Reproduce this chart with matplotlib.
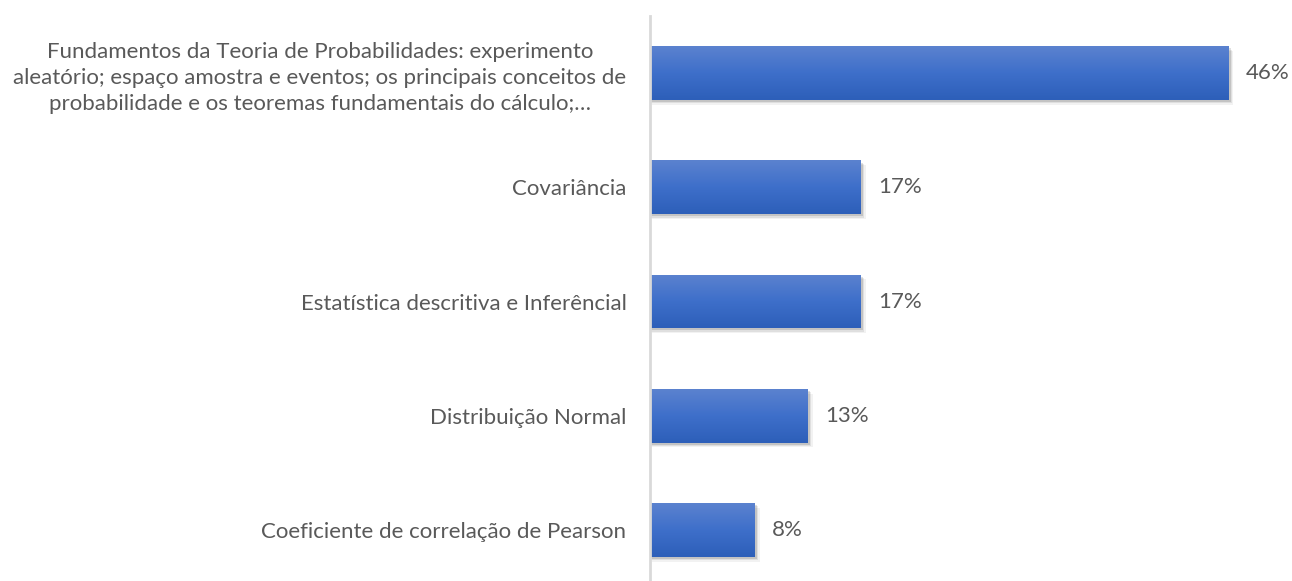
"""Horizontal bar chart with gradient bars (Excel style)."""
import matplotlib
matplotlib.use("Agg")
import matplotlib.pyplot as plt
import numpy as np
from matplotlib.colors import LinearSegmentedColormap
from matplotlib.patches import Rectangle

categories = [
    "Fundamentos da Teoria de Probabilidades: experimento\n"
    "aleatório; espaço amostra e eventos; os principais conceitos de\n"
    "probabilidade e os teoremas fundamentais do cálculo;…",
    "Covariância",
    "Estatística descritiva e Inferêncial",
    "Distribuição Normal",
    "Coeficiente de correlação de Pearson",
]
values = [45.8, 16.7, 16.7, 12.5, 8.3]
value_labels = ["46%", "17%", "17%", "13%", "8%"]

TEXT = "#595959"
W, H = 1292, 581
DPI = 100

plt.rcParams['font.family'] = ['Lato', 'DejaVu Sans']

fig = plt.figure(figsize=(W / DPI, H / DPI), dpi=DPI)
fig.patch.set_facecolor("white")

# plot area in pixel coordinates
left, top, bottom_px, right = 650, 16, 587, 1285
ax = fig.add_axes([left / W, 1 - bottom_px / H, (right - left) / W, (bottom_px - top) / H])
xmax = (right - left) / 12.63
n = len(categories)

# light on top, darker at the bottom
grad = LinearSegmentedColormap.from_list("bar", ["#5b82cf", "#3e6fca", "#2d5fb9"])
bar_h = 0.47
ys = np.arange(n)

for y, v in zip(ys, values):
    # soft shadow below / right
    for k, a in enumerate([0.12, 0.08, 0.05]):
        off = 0.018 + k * 0.012
        ax.add_patch(Rectangle((0.05 + k * 0.05, y - bar_h / 2 + off), v + 0.12 + k * 0.06, bar_h,
                               facecolor="black", alpha=a, linewidth=0, zorder=1))
    rect = Rectangle((0, y - bar_h / 2), v, bar_h, facecolor="none", linewidth=0, zorder=2)
    ax.add_patch(rect)
    img = ax.imshow(np.linspace(0, 1, 64).reshape(-1, 1), cmap=grad, aspect="auto",
                    extent=(0, v, y + bar_h / 2, y - bar_h / 2), origin="upper",
                    interpolation="bilinear", zorder=2)
    img.set_clip_path(rect)

for y, v, lab in zip(ys, values, value_labels):
    ax.text(v + 1.35, y, lab, va="center", ha="left", fontsize=16, color=TEXT)

ax.set_yticks(ys)
ax.set_yticklabels(categories, fontsize=16, color=TEXT, multialignment="center",
                   linespacing=1.36)
ax.tick_params(axis="y", length=0, pad=17)
ax.set_xticks([])
for s in ["top", "right", "bottom"]:
    ax.spines[s].set_visible(False)
ax.spines["left"].set_color("#d9d9d9")
ax.spines["left"].set_linewidth(2)
ax.set_xlim(0, xmax)
ax.set_ylim(n - 0.5, -0.5)

fig.savefig("out.png", dpi=DPI, facecolor="white")
